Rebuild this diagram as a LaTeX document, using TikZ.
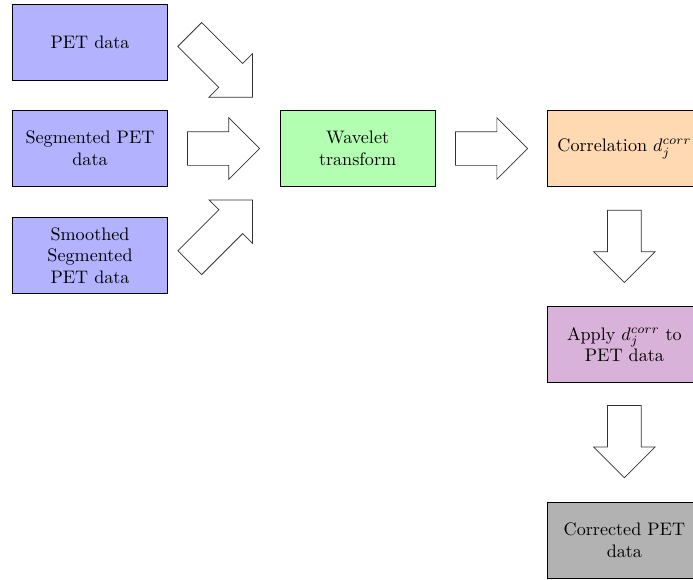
\documentclass[tikz,border=0pt]{standalone}
\usetikzlibrary{shapes.arrows}
\tikzset{
  stage/.style={rectangle, draw, minimum width=3cm, minimum height=1.47cm,
    align=center},
  bigArrow/.style={single arrow, draw=black!80, fill=white, inner xsep=0pt,
    inner ysep=0.32cm, single arrow head extend=0.27cm, minimum height=1.4cm},
  longArrow/.style={bigArrow, minimum height=1.72cm}
}

\begin{document}
\begin{tikzpicture}
  \useasboundingbox (0,0) rectangle (13.44,-11.23);
  % input data
  \node [stage, fill=blue!30] (pet) at (1.746,-0.815) {PET data};
  \node [stage, fill=blue!30] (segPet) at (1.746,-2.88) {Segmented PET\\data};
  \node [stage, fill=blue!30] (smoothPet) at (1.746,-4.957) {Smoothed\\Segmented\\PET data};
  % processing chain
  \node [stage, fill=green!30] (wavelet) at (6.936,-2.88) {Wavelet\\transform};
  \node [stage, fill=orange!30] (corr) at (12.11,-2.88) {Correlation $d_j^{corr}$};
  \node [stage, fill=violet!30] (applyCorr) at (12.11,-6.683) {Apply $d_j^{corr}$ to\\PET data};
  \node [stage, fill=gray!60] (corrected) at (12.11,-10.476) {Corrected PET\\data};
  % arrows
  \node [longArrow, rotate=-45] (petArrow) at (4.173,-1.161) {};
  \node [bigArrow] (segArrow) at (4.171,-2.88) {};
  \node [longArrow, rotate=45] (smoothArrow) at (4.173,-4.601) {};
  \node [bigArrow] (waveArrow) at (9.37,-2.88) {};
  \node [bigArrow, rotate=-90] (corrArrow) at (12.11,-4.615) {};
  \node [bigArrow, rotate=-90] (applyArrow) at (12.11,-8.401) {};
\end{tikzpicture}
\end{document}
